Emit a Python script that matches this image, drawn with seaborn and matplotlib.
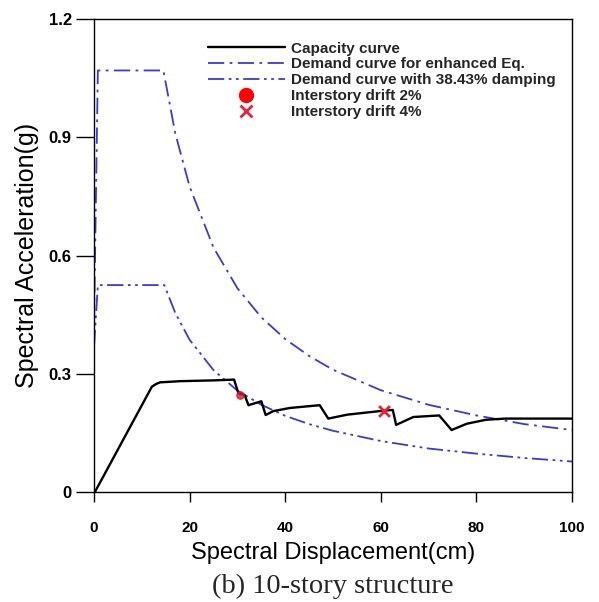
import numpy as np
import pandas as pd
import matplotlib
matplotlib.use("Agg")
import matplotlib.pyplot as plt
import seaborn as sns
from matplotlib.lines import Line2D

# ---- data ----
cap_sd = [0.2, 12.1, 13.0, 13.8, 18.0, 25.0, 29.3, 30.2, 31.5, 32.3, 35.0, 35.9, 37.5,
          41.0, 47.2, 49.0, 53.0, 60.5, 62.5, 63.2, 66.8, 72.2, 74.8, 78.0, 82.0, 86.0, 100.0]
cap_sa = [0.0, 0.267, 0.274, 0.278, 0.281, 0.283, 0.285, 0.250, 0.246, 0.220, 0.230, 0.195, 0.205,
          0.213, 0.220, 0.186, 0.196, 0.206, 0.208, 0.170, 0.190, 0.194, 0.157, 0.173, 0.183, 0.186, 0.186]

enh_sd = [0.0, 0.8, 14.5, 17.0, 20.0, 25.0, 30.0, 35.0, 40.0, 45.0, 50.0, 60.0, 70.0, 80.0, 90.0, 100.0]
enh_sa = [0.43, 1.07, 1.07, 0.91, 0.775, 0.62, 0.517, 0.443, 0.388, 0.345, 0.31, 0.258, 0.221, 0.194, 0.172, 0.157]

dmp_sd = [0.0, 0.8, 14.7, 17.0, 20.0, 25.0, 30.0, 35.0, 40.0, 45.0, 50.0, 60.0, 70.0, 80.0, 90.0, 100.0]
dmp_sa = [0.37, 0.525, 0.525, 0.454, 0.386, 0.309, 0.257, 0.221, 0.193, 0.172, 0.155, 0.129, 0.110, 0.097, 0.086, 0.077]

drift2 = (30.5, 0.246)
drift4 = (60.7, 0.206)

x_ticks = [0, 20, 40, 60, 80, 100]
y_ticks = [0, 0.3, 0.6, 0.9, 1.2]
y_tick_labels = ["0", "0.3", "0.6", "0.9", "1.2"]

labels = ["Capacity curve", "Demand curve for enhanced Eq.",
          "Demand curve with 38.43% damping", "Interstory drift 2%", "Interstory drift 4%"]

# ---- plotting ----
sns.set_theme(style="ticks")
plt.rcParams['font.family'] = ['Liberation Sans', 'DejaVu Sans']

fig = plt.figure(figsize=(5.99, 6.02), dpi=100)
ax = fig.add_axes([0.157, 0.183, 0.798, 0.785])

blue = "#3a3ad6"
cap_df = pd.DataFrame({"sd": cap_sd, "sa": cap_sa})
enh_df = pd.DataFrame({"sd": enh_sd, "sa": enh_sa})
dmp_df = pd.DataFrame({"sd": dmp_sd, "sa": dmp_sa})

sns.lineplot(data=enh_df, x="sd", y="sa", ax=ax, sort=False, color=blue, lw=1.3,
             estimator=None)
ax.lines[-1].set_dashes([9, 3, 1.5, 3])
sns.lineplot(data=dmp_df, x="sd", y="sa", ax=ax, sort=False, color=blue, lw=1.3,
             estimator=None)
ax.lines[-1].set_dashes([9, 2.5, 1.5, 2.5, 1.5, 2.5])
sns.lineplot(data=cap_df, x="sd", y="sa", ax=ax, sort=False, color="black", lw=1.7,
             estimator=None)

ax.scatter([drift2[0]], [drift2[1]], s=28, color="#cc2030", marker="o", zorder=5, alpha=0.8)
ax.scatter([drift4[0]], [drift4[1]], s=60, color="#e8203a", marker="x", lw=2, zorder=5)

ax.set_xlim(0, 100)
ax.set_ylim(0, 1.2)
ax.set_xticks(x_ticks)
ax.set_yticks(y_ticks)
ax.set_yticklabels(y_tick_labels)
ax.tick_params(axis="x", direction="out", length=7, width=1, labelsize=11, colors="black", pad=14)
ax.tick_params(axis="y", direction="out", length=13, width=1, labelsize=12, colors="black", pad=3)
for lab in ax.get_xticklabels() + ax.get_yticklabels():
    lab.set_fontweight("bold")
for s in ax.spines.values():
    s.set_visible(True)
    s.set_color("black")
    s.set_linewidth(1.0)

ax.set_xlabel("Spectral Displacement(cm)", fontsize=17, labelpad=5, color="black")
ax.set_ylabel("Spectral Acceleration(g)", fontsize=18, labelpad=7, color="black")

handles = [
    Line2D([], [], color="black", lw=1.7),
    Line2D([], [], color=blue, lw=1.3, dashes=[9, 3, 1.5, 3]),
    Line2D([], [], color=blue, lw=1.3, dashes=[9, 2.5, 1.5, 2.5, 1.5, 2.5]),
    Line2D([], [], color="red", marker="o", ls="none", markersize=10),
    Line2D([], [], color="#e8203a", marker="x", ls="none", markersize=8, markeredgewidth=2),
]
leg = ax.legend(handles, labels, loc="upper left", bbox_to_anchor=(0.21, 0.982),
                frameon=False, handlelength=5.0, handletextpad=0.45, labelspacing=0.12,
                prop={"weight": "bold", "size": 11, "family": "Liberation Sans"})

fig.text(0.556, 0.026, "(b) 10-story structure", ha="center", va="center",
         fontsize=20.5, family="Liberation Serif")

fig.savefig("out.png", dpi=100)
